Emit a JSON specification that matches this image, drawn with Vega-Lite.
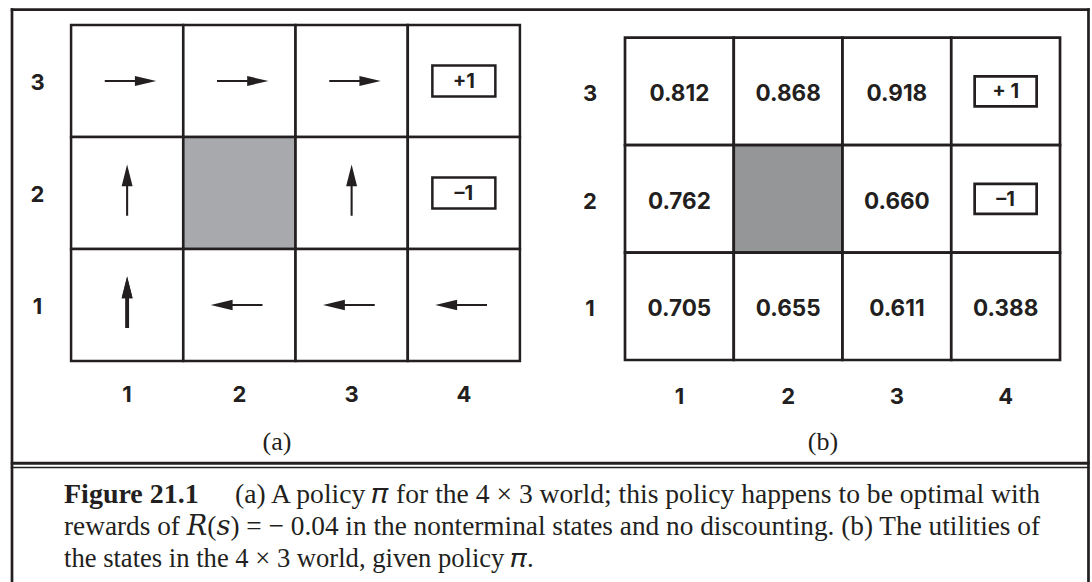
{
  "$schema": "https://vega.github.io/schema/vega-lite/v6.json",
  "width": 1092,
  "height": 582,
  "autosize": "none",
  "padding": 0,
  "background": "white",
  "config": {"view": {"stroke": null}},
  "datasets": {
    "grid": [
      {"col": 1, "row": 3, "policy": "right", "utility": 0.812},
      {"col": 2, "row": 3, "policy": "right", "utility": 0.868},
      {"col": 3, "row": 3, "policy": "right", "utility": 0.918},
      {"col": 4, "row": 3, "reward": "+1", "rewardB": "+ 1"},
      {"col": 1, "row": 2, "policy": "up", "utility": 0.762},
      {"col": 2, "row": 2, "wall": true},
      {"col": 3, "row": 2, "policy": "up", "utility": 0.660},
      {"col": 4, "row": 2, "reward": "–1", "rewardB": "–1"},
      {"col": 1, "row": 1, "policy": "up", "utility": 0.705},
      {"col": 2, "row": 1, "policy": "left", "utility": 0.655},
      {"col": 3, "row": 1, "policy": "left", "utility": 0.611},
      {"col": 4, "row": 1, "policy": "left", "utility": 0.388}
    ],
    "idx": [{"i": 1}, {"i": 2}, {"i": 3}, {"i": 4}],
    "one": [{"caption": "Figure 21.1"}]
  },
  "layer": [
    {
      "data": {"name": "grid"},
      "layer": [
        {
          "mark": {"type": "point", "shape": "square", "size": 12566, "filled": true, "opacity": 1, "stroke": "#231f20", "strokeWidth": 2.5},
          "encoding": {
            "x": {"field": "col", "type": "quantitative", "scale": {"domain": [-0.1325, 9.596], "nice": false, "zero": false}, "axis": null},
            "y": {"field": "row", "type": "quantitative", "scale": {"domain": [-1.473, 3.723], "nice": false, "zero": false}, "axis": null},
            "fill": {"condition": {"test": "datum.wall === true", "value": "#a7a9ac"}, "value": "#ffffff"}
          }
        },
        {
          "transform": [{"filter": "isValid(datum.policy)"}],
          "mark": {"type": "point", "size": 2704, "filled": true, "opacity": 1, "color": "#231f20", "strokeWidth": 0},
          "encoding": {
            "x": {"field": "col", "type": "quantitative", "scale": {"domain": [-0.1325, 9.596], "nice": false, "zero": false}, "axis": null},
            "y": {"field": "row", "type": "quantitative", "scale": {"domain": [-1.473, 3.723], "nice": false, "zero": false}, "axis": null},
            "shape": {
              "field": "policy", "type": "nominal", "legend": null,
              "scale": {
                "domain": ["right", "up", "left"],
                "range": [
                  "M-0.86,-0.04L0.3,-0.04L0.3,-0.19L1.12,0L0.3,0.19L0.3,0.04L-0.86,0.04Z",
                  "M-0.04,0.88L-0.04,-0.26L-0.21,-0.26L0,-1.1L0.21,-0.26L0.04,-0.26L0.04,0.88Z",
                  "M0.89,-0.04L-0.26,-0.04L-0.26,-0.2L-1.1,0L-0.26,0.2L-0.26,0.04L0.89,0.04Z"
                ]
              }
            }
          }
        },
        {
          "transform": [{"filter": "datum.col === 1 && datum.row === 1"}],
          "mark": {"type": "point", "size": 2704, "filled": true, "opacity": 1, "color": "#231f20", "strokeWidth": 0,
                   "shape": "M-0.075,0.88L-0.075,-0.26L-0.21,-0.26L0,-1.1L0.21,-0.26L0.075,-0.26L0.075,0.88Z"},
          "encoding": {
            "x": {"field": "col", "type": "quantitative", "scale": {"domain": [-0.1325, 9.596], "nice": false, "zero": false}, "axis": null},
            "y": {"field": "row", "type": "quantitative", "scale": {"domain": [-1.473, 3.723], "nice": false, "zero": false}, "axis": null}
          }
        },
        {
          "transform": [{"filter": "isValid(datum.reward)"}],
          "mark": {"type": "point", "shape": "M-1,-0.49H1V0.49H-1Z", "size": 3969, "filled": false, "opacity": 1, "stroke": "#231f20", "strokeWidth": 2.5},
          "encoding": {
            "x": {"field": "col", "type": "quantitative", "scale": {"domain": [-0.1325, 9.596], "nice": false, "zero": false}, "axis": null},
            "y": {"field": "row", "type": "quantitative", "scale": {"domain": [-1.473, 3.723], "nice": false, "zero": false}, "axis": null}
          }
        },
        {
          "transform": [{"filter": "isValid(datum.reward)"}],
          "mark": {"type": "text", "font": "Inter", "fontWeight": "bold", "fontSize": 20, "color": "#231f20", "align": "center", "baseline": "middle", "dy": 1},
          "encoding": {
            "x": {"field": "col", "type": "quantitative", "scale": {"domain": [-0.1325, 9.596], "nice": false, "zero": false}, "axis": null},
            "y": {"field": "row", "type": "quantitative", "scale": {"domain": [-1.473, 3.723], "nice": false, "zero": false}, "axis": null},
            "text": {"field": "reward"}
          }
        },
        {
          "data": {"name": "idx"},
          "transform": [{"filter": "datum.i <= 3"}],
          "mark": {"type": "text", "font": "Inter", "fontWeight": "bold", "fontSize": 22, "color": "#231f20", "align": "center", "baseline": "middle", "dy": 2},
          "encoding": {
            "x": {"datum": 0.202, "type": "quantitative", "scale": {"domain": [-0.1325, 9.596], "nice": false, "zero": false}, "axis": null},
            "y": {"field": "i", "type": "quantitative", "scale": {"domain": [-1.473, 3.723], "nice": false, "zero": false}, "axis": null},
            "text": {"field": "i"}
          }
        },
        {
          "data": {"name": "idx"},
          "mark": {"type": "text", "font": "Inter", "fontWeight": "bold", "fontSize": 22, "color": "#231f20", "align": "center", "baseline": "middle", "dy": 2},
          "encoding": {
            "x": {"field": "i", "type": "quantitative", "scale": {"domain": [-0.1325, 9.596], "nice": false, "zero": false}, "axis": null},
            "y": {"datum": 0.214, "type": "quantitative", "scale": {"domain": [-1.473, 3.723], "nice": false, "zero": false}, "axis": null},
            "text": {"field": "i"}
          }
        },
        {
          "data": {"values": [{"label": "(a)"}]},
          "mark": {"type": "text", "font": "Liberation Serif", "fontSize": 26, "color": "#231f20", "align": "center", "baseline": "middle"},
          "encoding": {
            "x": {"datum": 2.335, "type": "quantitative", "scale": {"domain": [-0.1325, 9.596], "nice": false, "zero": false}, "axis": null},
            "y": {"datum": -0.223, "type": "quantitative", "scale": {"domain": [-1.473, 3.723], "nice": false, "zero": false}, "axis": null},
            "text": {"field": "label"}
          }
        },
        {
          "data": {"name": "one"},
          "mark": {"type": "rule", "color": "#231f20", "strokeWidth": 2.7},
          "encoding": {
            "x": {"datum": -0.037, "type": "quantitative", "scale": {"domain": [-0.1325, 9.596], "nice": false, "zero": false}, "axis": null},
            "x2": {"datum": 9.576},
            "y": {"datum": 3.6366, "type": "quantitative", "scale": {"domain": [-1.473, 3.723], "nice": false, "zero": false}, "axis": null}
          }
        },
        {
          "data": {"name": "one"},
          "mark": {"type": "rule", "color": "#231f20", "strokeWidth": 2.7},
          "encoding": {
            "x": {"datum": -0.0256, "type": "quantitative", "scale": {"domain": [-0.1325, 9.596], "nice": false, "zero": false}, "axis": null},
            "y": {"datum": 3.6486, "type": "quantitative", "scale": {"domain": [-1.473, 3.723], "nice": false, "zero": false}, "axis": null},
            "y2": {"datum": -1.473}
          }
        },
        {
          "data": {"name": "one"},
          "mark": {"type": "rule", "color": "#231f20", "strokeWidth": 2.7},
          "encoding": {
            "x": {"datum": 9.5646, "type": "quantitative", "scale": {"domain": [-0.1325, 9.596], "nice": false, "zero": false}, "axis": null},
            "y": {"datum": 3.6486, "type": "quantitative", "scale": {"domain": [-1.473, 3.723], "nice": false, "zero": false}, "axis": null},
            "y2": {"datum": -1.473}
          }
        },
        {
          "data": {"name": "one"},
          "mark": {"type": "rule", "color": "#231f20", "strokeWidth": 3},
          "encoding": {
            "x": {"datum": -0.037, "type": "quantitative", "scale": {"domain": [-0.1325, 9.596], "nice": false, "zero": false}, "axis": null},
            "x2": {"datum": 9.576},
            "y": {"datum": -0.4134, "type": "quantitative", "scale": {"domain": [-1.473, 3.723], "nice": false, "zero": false}, "axis": null}
          }
        },
        {
          "data": {"name": "one"},
          "mark": {"type": "rule", "color": "#231f20", "strokeWidth": 1.6},
          "encoding": {
            "x": {"datum": -0.037, "type": "quantitative", "scale": {"domain": [-0.1325, 9.596], "nice": false, "zero": false}, "axis": null},
            "x2": {"datum": 9.576},
            "y": {"datum": -0.4509, "type": "quantitative", "scale": {"domain": [-1.473, 3.723], "nice": false, "zero": false}, "axis": null}
          }
        },
        {
          "data": {"name": "one"},
          "mark": {"type": "text", "font": "Liberation Serif", "fontWeight": "bold", "fontSize": 28, "color": "#231f20", "align": "left", "baseline": "alphabetic"},
          "encoding": {
            "x": {"datum": 0.4376, "type": "quantitative", "scale": {"domain": [-0.1325, 9.596], "nice": false, "zero": false}, "axis": null},
            "y": {"datum": -0.7705, "type": "quantitative", "scale": {"domain": [-1.473, 3.723], "nice": false, "zero": false}, "axis": null},
            "text": {"field": "caption"}
          }
        },
        {
          "data": {"values": [{"line": "(a) A policy 𝜋 for the 4 × 3 world; this policy happens to be optimal with"}]},
          "mark": {"type": "text", "font": "Liberation Serif, DejaVu Serif", "fontSize": 27.6, "color": "#231f20", "align": "left", "baseline": "alphabetic"},
          "encoding": {
            "x": {"datum": 1.961, "type": "quantitative", "scale": {"domain": [-0.1325, 9.596], "nice": false, "zero": false}, "axis": null},
            "y": {"datum": -0.7705, "type": "quantitative", "scale": {"domain": [-1.473, 3.723], "nice": false, "zero": false}, "axis": null},
            "text": {"field": "line"}
          }
        },
        {
          "data": {"values": [{"line": "rewards of 𝑅(𝑠) = − 0.04 in the nonterminal states and no discounting. (b) The utilities of"}]},
          "mark": {"type": "text", "font": "Liberation Serif, DejaVu Serif", "fontSize": 27.3, "color": "#231f20", "align": "left", "baseline": "alphabetic"},
          "encoding": {
            "x": {"datum": 0.4376, "type": "quantitative", "scale": {"domain": [-0.1325, 9.596], "nice": false, "zero": false}, "axis": null},
            "y": {"datum": -1.0536, "type": "quantitative", "scale": {"domain": [-1.473, 3.723], "nice": false, "zero": false}, "axis": null},
            "text": {"field": "line"}
          }
        },
        {
          "data": {"values": [{"line": "the states in the 4 × 3 world, given policy 𝜋."}]},
          "mark": {"type": "text", "font": "Liberation Serif, DejaVu Serif", "fontSize": 26.6, "color": "#231f20", "align": "left", "baseline": "alphabetic"},
          "encoding": {
            "x": {"datum": 0.4376, "type": "quantitative", "scale": {"domain": [-0.1325, 9.596], "nice": false, "zero": false}, "axis": null},
            "y": {"datum": -1.3366, "type": "quantitative", "scale": {"domain": [-1.473, 3.723], "nice": false, "zero": false}, "axis": null},
            "text": {"field": "line"}
          }
        }
      ]
    },
    {
      "data": {"name": "grid"},
      "layer": [
        {
          "mark": {"type": "point", "shape": "M-1,-0.988H1V0.988H-1Z", "size": 11827, "filled": true, "opacity": 1, "stroke": "#231f20", "strokeWidth": 2.7},
          "encoding": {
            "x": {"field": "col", "type": "quantitative", "scale": {"domain": [-5.247, 4.794], "nice": false, "zero": false}, "axis": null},
            "y": {"field": "row", "type": "quantitative", "scale": {"domain": [-1.567, 3.851], "nice": false, "zero": false}, "axis": null},
            "fill": {"condition": {"test": "datum.wall === true", "value": "#959698"}, "value": "#ffffff"}
          }
        },
        {
          "transform": [{"filter": "isValid(datum.utility)"}],
          "mark": {"type": "text", "font": "Inter", "fontWeight": "bold", "fontSize": 22.5, "color": "#231f20", "align": "center", "baseline": "middle", "dy": 3},
          "encoding": {
            "x": {"field": "col", "type": "quantitative", "scale": {"domain": [-5.247, 4.794], "nice": false, "zero": false}, "axis": null},
            "y": {"field": "row", "type": "quantitative", "scale": {"domain": [-1.567, 3.851], "nice": false, "zero": false}, "axis": null},
            "text": {"field": "utility", "type": "quantitative", "format": ".3f"}
          }
        },
        {
          "transform": [{"filter": "isValid(datum.rewardB)"}],
          "mark": {"type": "point", "shape": "M-1,-0.484H1V0.484H-1Z", "size": 3844, "filled": false, "opacity": 1, "stroke": "#231f20", "strokeWidth": 2.7},
          "encoding": {
            "x": {"field": "col", "type": "quantitative", "scale": {"domain": [-5.247, 4.794], "nice": false, "zero": false}, "axis": null},
            "y": {"field": "row", "type": "quantitative", "scale": {"domain": [-1.567, 3.851], "nice": false, "zero": false}, "axis": null}
          }
        },
        {
          "transform": [{"filter": "isValid(datum.rewardB)"}],
          "mark": {"type": "text", "font": "Inter", "fontWeight": "bold", "fontSize": 20, "color": "#231f20", "align": "center", "baseline": "middle", "dy": 1},
          "encoding": {
            "x": {"field": "col", "type": "quantitative", "scale": {"domain": [-5.247, 4.794], "nice": false, "zero": false}, "axis": null},
            "y": {"field": "row", "type": "quantitative", "scale": {"domain": [-1.567, 3.851], "nice": false, "zero": false}, "axis": null},
            "text": {"field": "rewardB"}
          }
        },
        {
          "data": {"name": "idx"},
          "transform": [{"filter": "datum.i <= 3"}],
          "mark": {"type": "text", "font": "Inter", "fontWeight": "bold", "fontSize": 22, "color": "#231f20", "align": "center", "baseline": "middle", "dy": 3},
          "encoding": {
            "x": {"datum": 0.178, "type": "quantitative", "scale": {"domain": [-5.247, 4.794], "nice": false, "zero": false}, "axis": null},
            "y": {"field": "i", "type": "quantitative", "scale": {"domain": [-1.567, 3.851], "nice": false, "zero": false}, "axis": null},
            "text": {"field": "i"}
          }
        },
        {
          "data": {"name": "idx"},
          "mark": {"type": "text", "font": "Inter", "fontWeight": "bold", "fontSize": 22, "color": "#231f20", "align": "center", "baseline": "middle", "dy": 2},
          "encoding": {
            "x": {"field": "i", "type": "quantitative", "scale": {"domain": [-5.247, 4.794], "nice": false, "zero": false}, "axis": null},
            "y": {"datum": 0.174, "type": "quantitative", "scale": {"domain": [-1.567, 3.851], "nice": false, "zero": false}, "axis": null},
            "text": {"field": "i"}
          }
        },
        {
          "data": {"values": [{"label": "(b)"}]},
          "mark": {"type": "text", "font": "Liberation Serif", "fontSize": 26, "color": "#231f20", "align": "center", "baseline": "middle"},
          "encoding": {
            "x": {"datum": 2.32, "type": "quantitative", "scale": {"domain": [-5.247, 4.794], "nice": false, "zero": false}, "axis": null},
            "y": {"datum": -0.263, "type": "quantitative", "scale": {"domain": [-1.567, 3.851], "nice": false, "zero": false}, "axis": null},
            "text": {"field": "label"}
          }
        }
      ]
    }
  ],
  "resolve": {"scale": {"x": "independent", "y": "independent"}}
}
